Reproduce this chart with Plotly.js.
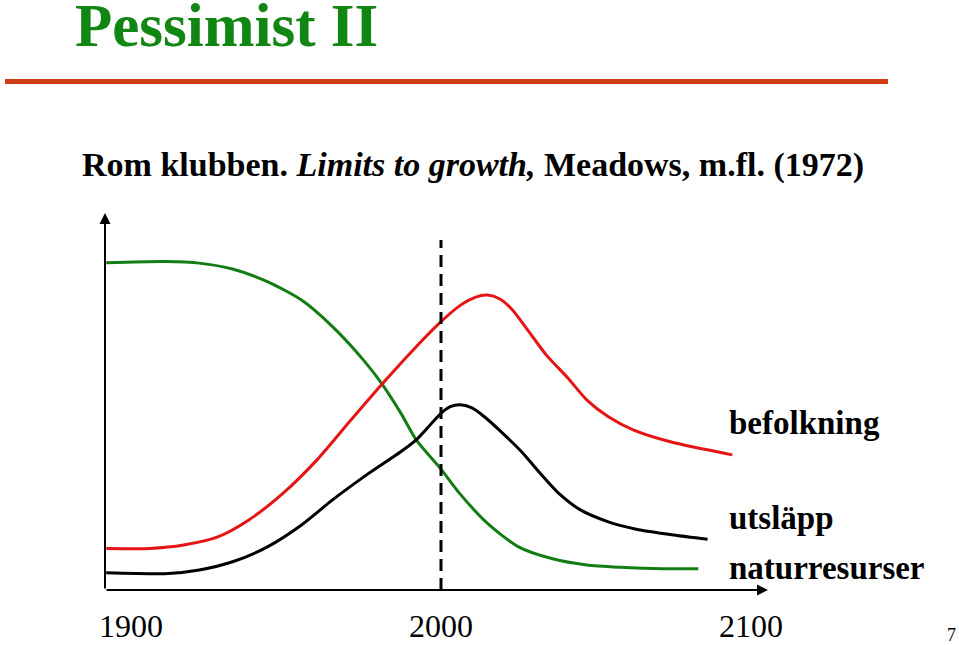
<!DOCTYPE html>
<html>
<head>
<meta charset="utf-8">
<script src="https://cdn.plot.ly/plotly-3.0.1.min.js"></script>
<style>html,body{margin:0;padding:0;background:#fff;}#chart{width:959px;height:645px;}</style>
</head>
<body>
<div id="chart"></div>
<script>
// Data (years, relative level)
const greenYears = [1892, 1911, 1922, 1933, 1944, 1955, 1965, 1975, 1981, 1987, 1992, 2000, 2006, 2015, 2025, 2036, 2047, 2058, 2068, 2083];
const greenVals  = [85.0, 85.3, 84.9, 83.3, 80.1, 75.3, 68.4, 59.7, 53.5, 46.0, 39.0, 31.4, 25.1, 17.3, 11.2, 8.1, 6.5, 5.9, 5.6, 5.5];

const redYears = [1892, 1906, 1917, 1928, 1938, 1949, 1960, 1971, 1981, 1992, 2000, 2006, 2011, 2015, 2019, 2023, 2028, 2034, 2041, 2047, 2054, 2062, 2074, 2094];
const redVals  = [10.8, 10.8, 11.7, 13.8, 18.2, 25.1, 33.8, 44.2, 53.5, 63.2, 69.7, 73.8, 76.0, 76.6, 75.6, 72.8, 67.5, 61.0, 55.0, 49.4, 45.0, 41.6, 38.5, 35.1];

const blackYears = [1892, 1912, 1922, 1933, 1944, 1955, 1965, 1976, 1987, 1992, 1998, 2000, 2003, 2006, 2010, 2014, 2019, 2026, 2032, 2038, 2045, 2054, 2063, 2075, 2086];
const blackVals  = [4.5, 4.3, 5.2, 7.4, 11.2, 16.9, 23.4, 29.9, 35.9, 39.0, 44.2, 45.9, 47.6, 48.1, 47.3, 45.0, 41.4, 35.9, 30.3, 25.1, 20.8, 17.7, 15.8, 14.3, 13.2];

const tickYears = [1900, 2000, 2100];
const tickLabels = ['1900', '2000', '2100'];
const markerYear = 2000;
const seriesLabels = ['befolkning', 'utsläpp', 'naturresurser'];

const xMin = 1891.6, xMax = 2105.5;
const serif = '"Liberation Serif", "Times New Roman", Times, serif';

const traces = [
  {x: greenYears, y: greenVals, mode: 'lines', line: {color: '#137d13', width: 3, shape: 'spline', smoothing: 0.7}, hoverinfo: 'skip'},
  {x: redYears, y: redVals, mode: 'lines', line: {color: '#e51515', width: 3, shape: 'spline', smoothing: 0.7}, hoverinfo: 'skip'},
  {x: blackYears, y: blackVals, mode: 'lines', line: {color: '#000000', width: 3, shape: 'spline', smoothing: 0.7}, hoverinfo: 'skip'}
];

// px -> paper helpers (plot area: x 105..768, y 205..590)
const px = v => (v - 105) / 663;
const py = v => (590 - v) / 385;

const layout = {
  width: 959, height: 645,
  margin: {l: 105, r: 191, t: 205, b: 55, pad: 0},
  paper_bgcolor: '#ffffff', plot_bgcolor: '#ffffff',
  showlegend: false,
  font: {family: serif, color: '#000'},
  xaxis: {range: [xMin, xMax], showgrid: false, zeroline: false, showline: false,
          tickvals: tickYears, ticktext: tickLabels, ticks: '', ticklabelstandoff: 14,
          tickfont: {family: serif, size: 32, color: '#000'}, fixedrange: true},
  yaxis: {range: [0, 100], showgrid: false, zeroline: false, showline: false, showticklabels: false, ticks: '', fixedrange: true},
  shapes: [
    {type: 'line', xref: 'x', yref: 'y', x0: markerYear, x1: markerYear, y0: 0, y1: 90.9,
     line: {color: '#000', width: 3, dash: '12px,7px'}},
    {type: 'line', xref: 'paper', yref: 'paper', x0: px(5), x1: px(888), y0: py(81.5), y1: py(81.5),
     line: {color: '#d03c12', width: 5}}
  ],
  annotations: [
    // axes with arrowheads
    {xref: 'x', yref: 'y', axref: 'x', ayref: 'y', x: xMin, y: 97.9, ax: xMin, ay: 0, text: '',
     showarrow: true, arrowhead: 2, arrowsize: 1.1, arrowwidth: 2, arrowcolor: '#000', standoff: 0, startstandoff: 0},
    {xref: 'x', yref: 'y', axref: 'x', ayref: 'y', x: xMax, y: 0, ax: xMin, ay: 0, text: '',
     showarrow: true, arrowhead: 2, arrowsize: 1.1, arrowwidth: 2, arrowcolor: '#000', standoff: 0, startstandoff: 0},
    // title
    {xref: 'paper', yref: 'paper', x: px(73), y: py(48), xanchor: 'left', yanchor: 'bottom', yshift: -13,
     text: '<b>Pessimist II</b>', showarrow: false, font: {family: serif, size: 61, color: '#128612'}},
    // subtitle
    {xref: 'paper', yref: 'paper', x: px(80), y: py(178), xanchor: 'left', yanchor: 'bottom', yshift: -8,
     text: '<b>Rom klubben. <i>Limits to growth,</i> Meadows, m.fl. (1972)</b>', showarrow: false,
     font: {family: serif, size: 34, color: '#000'}},
    // series labels
    {xref: 'paper', yref: 'paper', x: px(727), y: py(435), xanchor: 'left', yanchor: 'bottom', yshift: -8,
     text: '<b>' + seriesLabels[0] + '</b>', showarrow: false, font: {family: serif, size: 33, color: '#000'}},
    {xref: 'paper', yref: 'paper', x: px(727), y: py(530), xanchor: 'left', yanchor: 'bottom', yshift: -8,
     text: '<b>' + seriesLabels[1] + '</b>', showarrow: false, font: {family: serif, size: 33, color: '#000'}},
    {xref: 'paper', yref: 'paper', x: px(727), y: py(580), xanchor: 'left', yanchor: 'bottom', yshift: -8,
     text: '<b>' + seriesLabels[2] + '</b>', showarrow: false, font: {family: serif, size: 33, color: '#000'}},
    // page number
    {xref: 'paper', yref: 'paper', x: px(945), y: py(643), xanchor: 'left', yanchor: 'bottom', yshift: -4,
     text: '7', showarrow: false, font: {family: serif, size: 18, color: '#000'}}
  ]
};

Plotly.newPlot('chart', traces, layout, {displayModeBar: false, staticPlot: true});
</script>
</body>
</html>
